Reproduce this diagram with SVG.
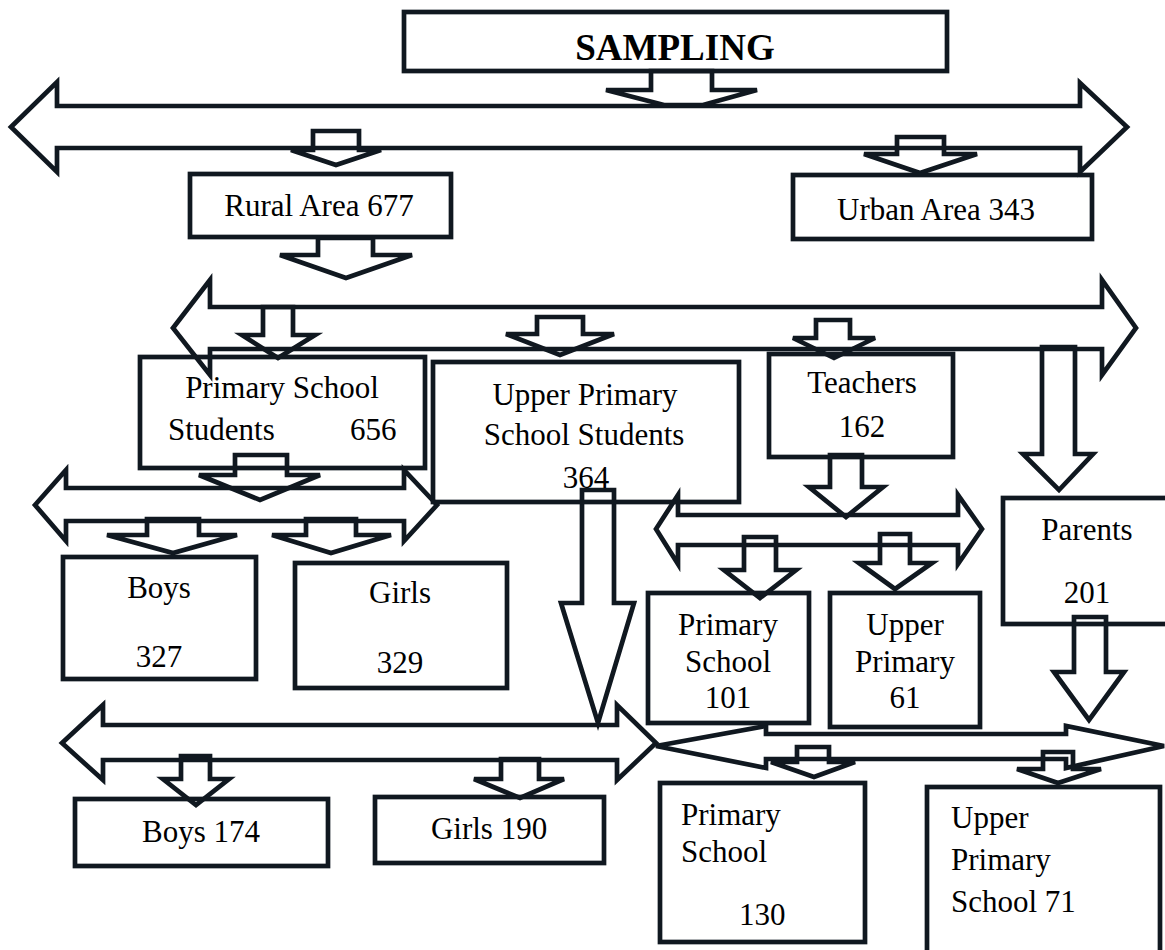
<svg xmlns="http://www.w3.org/2000/svg" width="1165" height="950" viewBox="0 0 1165 950">
<style>
.b{fill:none;stroke:#101820;stroke-width:4.7}
.a{fill:none;stroke:#101820;stroke-width:4.7;stroke-linejoin:miter}
text{font-family:"Liberation Serif","Times New Roman",serif;font-size:31px;fill:#000}
.c{text-anchor:middle}
.t{font-weight:bold;font-size:37px}
</style>
<rect width="1165" height="950" fill="#fff"/>
<g id="connectors">
<polygon class="a" points="11,127 57,82 57,106 1080,106 1080,83 1127,127 1080,172 1080,148 57,148 57,172"/>
<polygon class="a" points="651,71 712,71 712,90 757,90 703,105 664,105 606,90 651,90"/>
<polygon class="a" points="313,131 359,131 359,150 381,150 336,165 291,150 313,150"/>
<polygon class="a" points="897,137 944,137 944,154 977,154 920,173 864,154 897,154"/>
<polygon class="a" points="318,238 373,238 373,255 412,255 346,278 280,255 318,255"/>
<polygon class="a" points="173,328 210,280 210,307 1102,307 1102,280 1136,328 1102,375 1102,349 210,349 210,375"/>
<polygon class="a" points="263,307 293,307 293,335 315,335 278,358 242,335 263,335"/>
<polygon class="a" points="537,317 583,317 583,334 614,334 560,355 506,334 537,334"/>
<polygon class="a" points="816,320 850,320 850,338 875,338 834,358 793,338 816,338"/>
<polygon class="a" points="1042,347 1075,347 1075,454 1093,454 1059,490 1023,454 1042,454"/>
<polygon class="a" points="235,455 287,455 287,475 320,475 260,500 199,475 235,475"/>
<polygon class="a" points="35,505 66,470 66,488 404,488 404,470 437,505 404,541 404,521 66,521 66,541"/>
<polygon class="a" points="147,519 199,519 199,535 237,535 173,553 107,535 147,535"/>
<polygon class="a" points="306,519 356,519 356,535 391,535 331,553 272,535 306,535"/>
<polygon class="a" points="582,490 614,490 614,603 634,603 598,723 561,603 582,603"/>
<polygon class="a" points="830,455 862,455 862,487 883,487 846,517 809,487 830,487"/>
<polygon class="a" points="656,529 678,495 678,515 958,515 958,495 982,529 958,564 958,545 678,545 678,564"/>
<polygon class="a" points="744,537 776,537 776,570 796,570 760,598 724,570 744,570"/>
<polygon class="a" points="880,534 910,534 910,563 932,563 895,589 859,563 880,563"/>
<polygon class="a" points="1074,617 1106,617 1106,672 1124,672 1089,720 1054,672 1074,672"/>
<polygon class="a" points="62,743 103,705 103,725 617,725 617,705 656,743 617,780 617,760 103,760 103,780"/>
<polygon class="a" points="181,756 210,756 210,779 229,779 196,805 163,779 181,779"/>
<polygon class="a" points="501,759 539,759 539,779 564,779 520,798 474,779 501,779"/>
<polygon class="a" points="656,746 766,726 766,734 1066,734 1066,726 1164,746 1066,768 1066,759 766,759 766,768"/>
<polygon class="a" points="797,747 829,747 829,762 855,762 814,777 771,762 797,762"/>
<polygon class="a" points="1043,752 1073,752 1073,769 1101,769 1058,783 1017,769 1043,769"/>
</g>
<g id="sampling"><rect class="b" x="404" y="12" width="543" height="59"/><text class="c t" x="675" y="60">SAMPLING</text></g>
<g id="rural"><rect class="b" x="190" y="174" width="261" height="63"/><text class="c" x="319" y="216">Rural Area 677</text></g>
<g id="urban"><rect class="b" x="793" y="175" width="299" height="64"/><text class="c" x="936" y="220">Urban Area 343</text></g>
<g id="primary-students"><rect class="b" x="140" y="357" width="285" height="111"/><text class="c" x="282" y="398">Primary School</text><text y="440"><tspan x="168">Students</tspan><tspan x="350">656</tspan></text></g>
<g id="upper-students"><rect class="b" x="433" y="362" width="306" height="140"/><text class="c" x="585" y="405">Upper Primary</text><text class="c" x="584" y="445">School Students</text><text class="c" x="586" y="488">364</text></g>
<g id="teachers"><rect class="b" x="769" y="354" width="184" height="103"/><text class="c" x="862" y="393">Teachers</text><text class="c" x="862" y="437">162</text></g>
<g id="boys"><rect class="b" x="63" y="557" width="193" height="122"/><text class="c" x="159" y="598">Boys</text><text class="c" x="159" y="667">327</text></g>
<g id="girls"><rect class="b" x="295" y="563" width="212" height="125"/><text class="c" x="400" y="603">Girls</text><text class="c" x="400" y="673">329</text></g>
<g id="teachers-primary"><rect class="b" x="648" y="593" width="161" height="130"/><text class="c" x="728" y="635">Primary</text><text class="c" x="728" y="672">School</text><text class="c" x="728" y="708">101</text></g>
<g id="teachers-upper"><rect class="b" x="830" y="593" width="150" height="134"/><text class="c" x="905" y="635">Upper</text><text class="c" x="905" y="672">Primary</text><text class="c" x="905" y="708">61</text></g>
<g id="parents"><rect class="b" x="1003" y="498" width="170" height="126"/><text class="c" x="1087" y="540">Parents</text><text class="c" x="1087" y="603">201</text></g>
<g id="boys174"><rect class="b" x="75" y="799" width="253" height="67"/><text class="c" x="201" y="842">Boys 174</text></g>
<g id="girls190"><rect class="b" x="375" y="797" width="229" height="66"/><text class="c" x="489" y="839">Girls 190</text></g>
<g id="parents-primary"><rect class="b" x="660" y="783" width="205" height="159"/><text x="681" y="825">Primary</text><text x="681" y="862">School</text><text x="739" y="925">130</text></g>
<g id="parents-upper"><rect class="b" x="927" y="787" width="233" height="170"/><text x="951" y="828">Upper</text><text x="951" y="870">Primary</text><text x="951" y="912">School 71</text></g>
</svg>
